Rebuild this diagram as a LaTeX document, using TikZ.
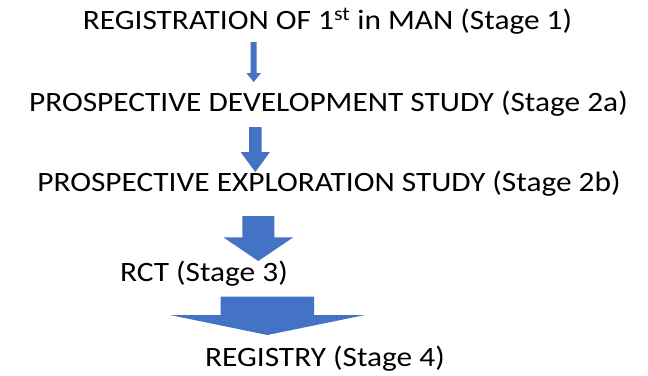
\documentclass[tikz,border=0pt]{standalone}
\usepackage{fontspec}
\setmainfont{Carlito}[FakeStretch=1.12]
\definecolor{arrowblue}{HTML}{4472C4}
\begin{document}
\begin{tikzpicture}[x=1pt,y=-1pt,
  label/.style={anchor=base,inner sep=0pt,font=\fontsize{28}{32}\selectfont},
  blockarrow/.style={fill=arrowblue,draw=none}]
\useasboundingbox (0,0) rectangle (648,375);
\node[label] (s1) at (327.5,29.3) {REGISTRATION OF 1\textsuperscript{st} in MAN (Stage 1)};
\node[label] (s2a) at (328.5,111.7) {PROSPECTIVE DEVELOPMENT STUDY (Stage 2a)};
\node[label] (s2b) at (329,191.7) {PROSPECTIVE EXPLORATION STUDY (Stage 2b)};
\node[label] (s3) at (204,281.7) {RCT (Stage 3)};
\node[label] (s4) at (325,366.7) {REGISTRY (Stage 4)};
% arrow 1
\fill[blockarrow] (250.7,42) -- (256.7,42) -- (256.7,73) -- (261,73) -- (253.7,82) -- (246.4,73) -- (250.7,73) -- cycle;
% arrow 2
\fill[blockarrow] (249,127) -- (261.6,127) -- (261.6,152) -- (270,152) -- (255.3,172) -- (240.6,152) -- (249,152) -- cycle;
% arrow 3
\fill[blockarrow] (242.3,216) -- (274.3,216) -- (274.3,237.3) -- (293.3,237.3) -- (258.3,261) -- (223.3,237.3) -- (242.3,237.3) -- cycle;
% arrow 4
\fill[blockarrow] (220.7,296.7) -- (314,296.7) -- (314,315) -- (365,315) -- (267.3,335) -- (170,315) -- (220.7,315) -- cycle;
\end{tikzpicture}
\end{document}
